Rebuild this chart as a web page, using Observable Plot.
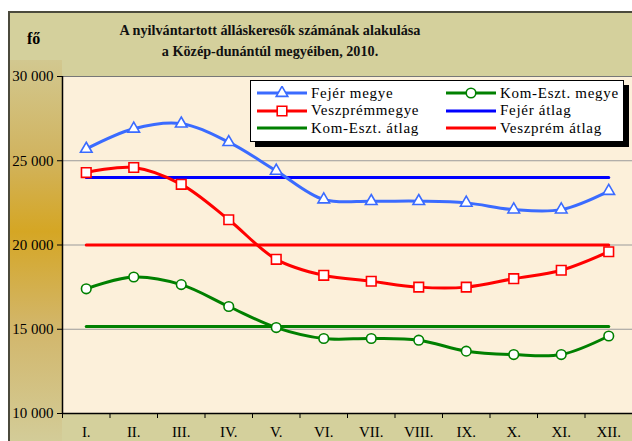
<!DOCTYPE html>
<html><head><meta charset="utf-8">
<script src="https://cdn.jsdelivr.net/npm/d3@7"></script>
<script src="https://cdn.jsdelivr.net/npm/@observablehq/plot@0.6"></script>
<style>
body{margin:0;background:#fff;}
#wrap{position:relative;width:632px;height:441px;overflow:hidden;font-family:'Liberation Serif','Times New Roman',serif;}
#frame{position:absolute;left:8px;top:11px;width:660px;height:460px;border:2px solid #4b4a3c;background:#d4d09c;box-sizing:border-box;}
#band{position:absolute;left:10px;top:60px;width:52px;height:381px;background:linear-gradient(to bottom,#d2c890 0%,#d1b460 25%,#d5a624 45%,#d2b66a 70%,#d3cc98 100%);}
#plot{position:absolute;left:0;top:0;}
.title{position:absolute;left:0;width:540px;text-align:center;font-weight:bold;font-size:14.2px;color:#111;font-family:'Liberation Serif',serif;}
#fo{position:absolute;left:27px;top:30px;font-weight:bold;font-size:16px;font-family:'Liberation Serif',serif;}
#legend{position:absolute;left:250px;top:80px;width:374px;height:62px;background:#fff;border:1px solid #000;box-sizing:border-box;box-shadow:5px 5px 0 #000;}
.item{position:absolute;display:flex;align-items:center;font-size:15px;letter-spacing:0.7px;white-space:nowrap;height:18px;font-family:'Liberation Serif',serif;}
.item svg{margin-right:4px;}
</style></head>
<body>
<div id="wrap">
  <div id="frame"></div>
  <div id="band"></div>
  <div id="plot"></div>
  <div class="title" style="top:22px">A nyilvántartott álláskeresők számának alakulása</div>
  <div class="title" style="top:43px">a Közép-dunántúl megyéiben, 2010.</div>
  <div id="fo">fő</div>
  <div id="legend"></div>
</div>
<script>
const months = ["I.","II.","III.","IV.","V.","VI.","VII.","VIII.","IX.","X.","XI.","XII."];
const fejer    = [25700,26900,27200,26100,24400,22700,22600,22600,22500,22100,22100,23200];
const veszprem = [24300,24600,23600,21500,19150,18200,17850,17500,17500,18000,18500,19600];
const komeszt  = [17400,18100,17650,16350,15100,14450,14450,14350,13700,13500,13500,14600];
const fejerAvg = 24000;
const veszpremAvg = 20000;
const komesztAvg = 15170;
const yTicks = [10000,15000,20000,25000,30000];
const seriesNames = ["Fejér megye","Veszprémmegye","Kom-Eszt. megye","Fejér átlag","Veszprém átlag","Kom-Eszt. átlag"];

const C = {fejer:"#3a6bff", fejerAvg:"#0000ff", vesz:"#ff0000", kom:"#008000"};
const rows = arr => arr.map((v,i)=>({x:i+1, y:v}));
const avgRows = v => months.map((m,i)=>({x:i+1, y:v}));
const fmt = d => d3.format(",")(d).replace(/,/g," ");

const chart = Plot.plot({
  width:632, height:441,
  marginLeft:62, marginRight:0, marginTop:76, marginBottom:28,
  style:{background:"transparent", fontFamily:"'Liberation Serif', 'Times New Roman', serif", fontSize:"15px", color:"#000", overflow:"visible"},
  x:{type:"linear", domain:[0.5,12.5]},
  y:{domain:[10000,30000]},
  marks:[
    Plot.frame({fill:"#fcf0da", stroke:null}),
    Plot.gridY({ticks:yTicks.slice(1,4), stroke:"#9a9a9a", strokeOpacity:1, strokeWidth:1}),
    Plot.ruleY([30000], {stroke:"#777"}),
    Plot.axisY({ticks:yTicks, tickSize:5, tickPadding:4, tickFormat:fmt, label:null, fontSize:15, fontFamily:"'Liberation Serif', serif"}),
    Plot.axisX({ticks:d3.range(0.5,13,1), tickSize:5, tickFormat:()=>"", label:null}),
    Plot.axisX({ticks:d3.range(1,13), tickSize:0, tickPadding:13, tickFormat:i=>months[i-1], label:null, fontSize:15, fontFamily:"'Liberation Serif', serif"}),
    Plot.ruleX([0.5], {stroke:"#000", strokeWidth:1.5}),
    Plot.ruleY([10000], {stroke:"#000", strokeWidth:1.5}),
    Plot.lineY(avgRows(fejerAvg), {x:"x", y:"y", stroke:C.fejerAvg, strokeWidth:3}),
    Plot.lineY(avgRows(veszpremAvg), {x:"x", y:"y", stroke:C.vesz, strokeWidth:3}),
    Plot.lineY(avgRows(komesztAvg), {x:"x", y:"y", stroke:C.kom, strokeWidth:3}),
    Plot.lineY(rows(fejer), {x:"x", y:"y", stroke:C.fejer, strokeWidth:3, curve:"catmull-rom"}),
    Plot.lineY(rows(veszprem), {x:"x", y:"y", stroke:C.vesz, strokeWidth:3, curve:"catmull-rom"}),
    Plot.lineY(rows(komeszt), {x:"x", y:"y", stroke:C.kom, strokeWidth:3, curve:"catmull-rom"}),
    Plot.dot(rows(fejer), {x:"x", y:"y", symbol:"triangle", r:4.3, fill:"#fff", stroke:C.fejer, strokeWidth:1.6}),
    Plot.dot(rows(veszprem), {x:"x", y:"y", symbol:"square", r:5.4, fill:"#fff", stroke:C.vesz, strokeWidth:1.6}),
    Plot.dot(rows(komeszt), {x:"x", y:"y", symbol:"circle", r:4.8, fill:"#fff", stroke:C.kom, strokeWidth:1.6})
  ]
});
document.getElementById("plot").appendChild(chart);

// legend
const legendItems = [
  {name:seriesNames[0], color:C.fejer, sym:"triangle", col:0, row:0},
  {name:seriesNames[2], color:C.kom, sym:"circle", col:1, row:0},
  {name:seriesNames[1], color:C.vesz, sym:"square", col:0, row:1},
  {name:seriesNames[3], color:C.fejerAvg, sym:null, col:1, row:1},
  {name:seriesNames[5], color:C.kom, sym:null, col:0, row:2},
  {name:seriesNames[4], color:C.vesz, sym:null, col:1, row:2}
];
const lg = document.getElementById("legend");
const symPath = {triangle:d3.symbol(d3.symbolTriangle, Math.PI*4.3*4.3)(), square:d3.symbol(d3.symbolSquare, Math.PI*5.4*5.4)(), circle:d3.symbol(d3.symbolCircle, Math.PI*4.8*4.8)()};
legendItems.forEach(it=>{
  const div = document.createElement("div");
  div.className = "item";
  div.style.left = (it.col ? 195 : 6) + "px";
  div.style.top = (3 + it.row*17.5) + "px";
  let svg = `<svg width="50" height="14"><line x1="0" x2="50" y1="7" y2="7" stroke="${it.color}" stroke-width="3"/>`;
  if (it.sym) svg += `<path d="${symPath[it.sym]}" transform="translate(25,7)" fill="#fff" stroke="${it.color}" stroke-width="1.6"/>`;
  svg += `</svg>`;
  div.innerHTML = svg + `<span>${it.name}</span>`;
  lg.appendChild(div);
});
</script>
</body></html>
